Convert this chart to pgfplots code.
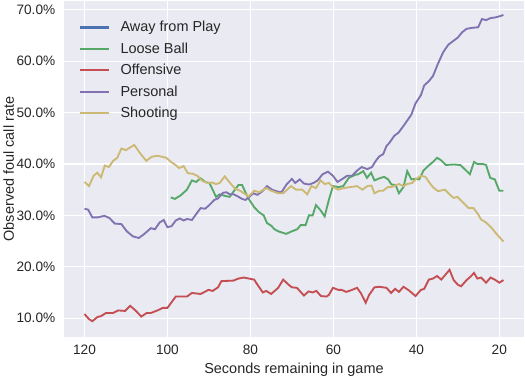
\documentclass[border=0pt]{standalone}
\usepackage{pgfplots}
\pgfplotsset{compat=1.18}
\usepackage{fontspec}
\setmainfont{Liberation Sans}
\definecolor{sbblue}{HTML}{4C72B0}
\definecolor{sbgreen}{HTML}{55A868}
\definecolor{sbred}{HTML}{C44E52}
\definecolor{sbpurple}{HTML}{8172B2}
\definecolor{sbyellow}{HTML}{CCB974}
\definecolor{bgcol}{HTML}{EAEAF2}
\definecolor{txt}{HTML}{262626}
\begin{document}
\begin{tikzpicture}
\begin{axis}[
  width=446pt, height=326pt, scale only axis,
  axis background/.style={fill=bgcol},
  axis line style={draw=none},
  grid=major, major grid style={white, line width=1.1pt},
  tick style={draw=none},
  x dir=reverse,
  xmin=13.95, xmax=125.05, ymin=6.24, ymax=71.8,
  xtick={20,40,60,80,100,120}, ytick={10,20,30,40,50,60,70},
  /pgf/number format/assume math mode=true,
  yticklabel={\pgfmathprintnumber[fixed,fixed zerofill,precision=1]{\tick}\%},
  ticklabel style={font=\fontsize{13.2}{16}\selectfont, text=txt},
  xticklabel style={yshift=-4pt},
  yticklabel style={xshift=-4.5pt},
  xlabel={Seconds remaining in game},
  ylabel={Observed foul call rate},
  every axis x label/.style={at={(rel axis cs:0.5,0)}, anchor=center, yshift=-31pt, font=\fontsize{14}{16}\selectfont, text=txt},
  every axis y label/.style={at={(rel axis cs:0,0.5)}, anchor=center, xshift=-53pt, rotate=90, font=\fontsize{14}{16}\selectfont, text=txt},
  legend style={at={(rel axis cs:0,1)}, anchor=north west, xshift=12pt, yshift=-16pt,
    draw=none, fill=none, font=\fontsize{14}{16}\selectfont, text=txt,
    nodes={inner sep=2pt, text depth=0.15em}, row sep=5.1pt},
  legend cell align=left,
  legend image code/.code={\draw[#1, line width=2.1pt] (0pt,0pt) -- (28pt,0pt); \path (36pt,0pt);},
]
\addlegendimage{sbblue}
\addlegendentry{Away from Play}
\addplot[sbgreen, line width=1.8pt] coordinates {
(99.2,33.5)(98.2,33.2)(96.8,33.9)(95.3,35.0)(94.1,36.8)(93.1,36.5)(92,37.2)(90.9,36.5)(89.9,36.3)(89.1,35.0)(88.3,33.6)(87.4,34.1)(86.2,33.8)(85,33.6)(84,34.7)(82.9,35.9)(82,35.9)(81.2,34.5)(80.4,33.2)(79.1,31.6)(77.9,30.6)(76.8,30.0)(76,28.5)(75,28.0)(74.2,27.3)(73.3,26.9)(71.4,26.4)(70,26.9)(68.7,27.3)(67.9,28.1)(66.7,28.1)(65.9,30.0)(65.0,30.0)(64.2,32.0)(63.1,31.0)(62.1,29.8)(61.1,33.0)(60.1,35.7)(58.8,35.5)(57.6,35.7)(56.3,37.3)(54.7,37.9)(54.0,38.0)(52.8,38.6)(51.9,37.3)(50.9,38.3)(50.1,36.8)(48.9,37.2)(47.8,37.5)(46.8,37.0)(46,36.0)(45,35.9)(44.2,34.3)(43.1,35.5)(42.2,38.6)(41.2,37.0)(40.2,37.1)(39.3,37.0)(38.3,38.7)(37.3,39.5)(36.0,40.4)(35.0,41.2)(34.0,40.7)(32.9,39.8)(31.0,39.9)(29.4,39.8)(28.1,38.8)(27.1,38.0)(26.1,40.4)(25.3,40.0)(24.0,40.0)(23.2,39.8)(22.2,37.3)(21.1,37.0)(20.0,34.8)(19.0,34.8)
};
\addlegendentry{Loose Ball}
\addplot[sbred, line width=1.8pt] coordinates {
(120,10.8)(118.9,9.8)(118.1,9.4)(116.9,10.2)(116,10.4)(114.8,11.0)(113.1,11.0)(111.9,11.5)(110.2,11.4)(109,12.4)(107.7,11.5)(106.3,10.3)(105,11.0)(104,11.0)(102.4,11.5)(101.1,12.0)(100,12.0)(98,14.2)(95.3,14.2)(94.1,14.9)(92,14.7)(90.1,15.5)(89.1,15.3)(87.8,16.0)(87,17.2)(84.1,17.3)(82.9,17.7)(81.6,17.9)(79.1,17.5)(78.3,16.5)(77,15.0)(76.2,15.3)(75,14.7)(73.3,15.9)(72.1,17.5)(70.8,16.5)(70,16.0)(68.8,15.9)(67.1,14.4)(66.0,15.2)(65.0,15.0)(64.1,15.3)(63.0,14.3)(61.7,14.2)(61.1,14.5)(60.1,15.9)(58.8,15.5)(58.0,15.5)(56.9,15.1)(55.5,15.5)(54.3,15.9)(53.4,14.9)(52.2,13.0)(51.4,14.5)(50.1,16.0)(48.9,16.1)(47.2,15.9)(46.1,14.9)(45.1,15.7)(44.2,15.1)(43.1,16.1)(41.8,15.4)(40.2,14.3)(38.9,15.5)(38.1,15.7)(37.0,17.5)(36.0,17.7)(35.0,18.2)(34.0,17.5)(32.0,19.4)(31.0,17.4)(30.0,16.5)(29.2,16.2)(27.9,17.4)(26.9,18.1)(26.1,18.8)(25.3,17.7)(24.4,17.9)(23.2,16.9)(22.1,17.9)(21.1,17.5)(20.0,16.9)(19.0,17.4)
};
\addlegendentry{Offensive}
\addplot[sbpurple, line width=1.8pt] coordinates {
(120,31.3)(119.1,31.1)(118.1,29.6)(116.9,29.6)(115.2,29.9)(114,29.5)(112.7,28.4)(111.1,28.3)(109.8,26.9)(108.3,25.9)(106.9,25.6)(105.7,26.3)(104,27.5)(103,27.3)(101.9,28.6)(100.9,29.1)(100,27.7)(99,27.9)(98,29.0)(97,29.4)(96.1,29.0)(95.3,29.3)(94.1,29.1)(93.2,30.1)(92,31.4)(90.9,31.3)(89.9,32.0)(88.7,33.0)(87.8,33.3)(86.6,34.4)(85.8,34.5)(85,34.1)(84.1,34.1)(83.3,33.8)(82.0,33.2)(81.2,33.0)(80.4,33.5)(79.3,34.3)(78.3,34.0)(77.1,34.7)(76,35.7)(74.8,35.0)(73.3,34.6)(72.5,34.5)(71.3,36.0)(70,37.1)(69.2,36.3)(68.1,37.0)(67.1,36.2)(65.9,36.0)(64.8,36.3)(63.8,36.8)(62.6,38.0)(61.3,38.5)(60.1,37.7)(59.0,36.5)(58.0,37.0)(56.7,37.7)(55.5,37.7)(54.3,38.7)(53.2,39.4)(51.8,39.0)(50.7,39.4)(49.7,40.7)(48.9,41.5)(48.0,41.9)(47.2,43.5)(46.6,44.0)(45.3,45.5)(44.3,46.1)(43.1,47.4)(41.2,49.6)(40.2,51.8)(38.9,53.4)(38.1,55.3)(37.0,56.1)(36.0,57.1)(34.8,59.5)(33.5,61.8)(32.3,63.2)(31.0,64.0)(30.0,64.6)(29.0,65.6)(27.9,66.3)(26.5,66.5)(25.1,66.6)(24.2,68.2)(23.2,68.0)(22.1,68.4)(21.1,68.5)(20.1,68.7)(19.0,69.0)
};
\addlegendentry{Personal}
\addplot[sbyellow, line width=1.8pt] coordinates {
(120,36.5)(118.9,35.7)(117.8,37.7)(116.9,38.3)(116,37.4)(115.1,39.7)(114.1,39.4)(113.1,40.6)(112.1,41.2)(111.1,43.0)(110,42.7)(108,43.7)(106.5,42.0)(105.1,40.6)(103.8,41.4)(102.4,41.6)(100.3,41.2)(98.8,40.2)(98.2,39.9)(97.2,39.2)(96.1,39.6)(95.1,38.2)(93.9,38.1)(92.8,37.7)(91.6,36.7)(90.3,36.3)(89.3,36.4)(88.3,36.1)(87.4,36.3)(86.2,37.6)(85,36.4)(83.7,35.2)(82.5,34.8)(81.2,34.1)(80.4,33.7)(79.1,34.8)(77.9,34.5)(76.2,35.3)(75,34.8)(73.3,34.3)(72.1,34.3)(70.2,35.7)(69.0,35.0)(67.5,35.0)(66.3,34.1)(65.3,35.7)(64.2,35.3)(63.1,36.8)(62.1,36.1)(61.1,36.3)(60.1,35.5)(58.8,35.0)(57.6,35.3)(55.9,35.5)(54.3,35.7)(53.0,35.0)(51.8,35.7)(50.8,35.8)(50.1,34.3)(48.9,34.8)(48.0,34.8)(46.9,35.5)(46,35.5)(45.2,35.8)(44.2,36.1)(43.1,35.7)(42.2,36.1)(41.0,36.3)(40.2,37.0)(38.9,37.7)(37.8,37.5)(36.8,36.3)(36,35.5)(34.8,34.7)(33.1,35.0)(31.9,34.0)(31.0,33.4)(30.1,33.6)(29.0,32.7)(27.4,31.4)(26.2,31.4)(25.2,30.3)(24.4,29.2)(23.2,28.6)(21.9,27.6)(20.7,26.4)(19.0,24.9)
};
\addlegendentry{Shooting}
\end{axis}
\end{tikzpicture}
\end{document}
